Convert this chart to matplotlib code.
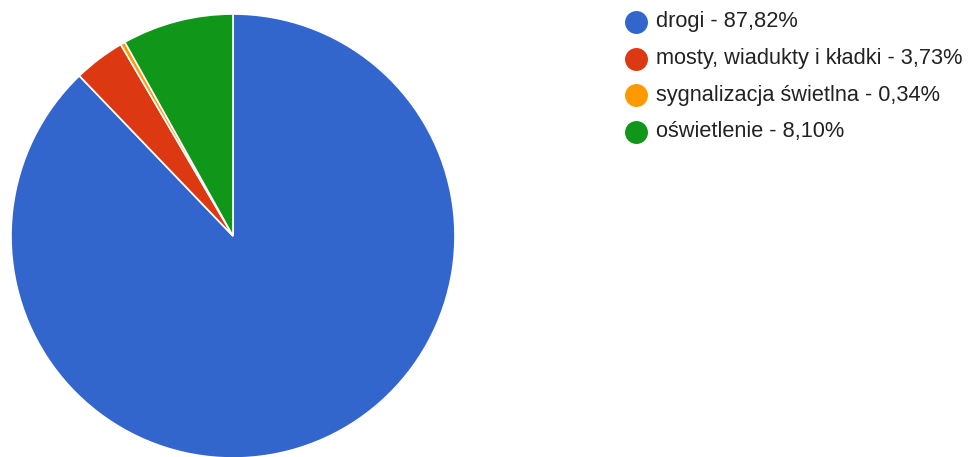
import matplotlib.pyplot as plt
from matplotlib.lines import Line2D

kategorie = ["drogi", "mosty, wiadukty i kładki", "sygnalizacja świetlna", "oświetlenie"]
udzialy = [87.82, 3.73, 0.34, 8.10]
kolory = ["#3366cc", "#dc3912", "#ff9900", "#109618"]

plt.rcParams['font.family'] = ['Liberation Sans', 'DejaVu Sans']

W, H = 970, 457
fig = plt.figure(figsize=(W / 100, H / 100), dpi=100)

# kolo: srodek (233, 236), promien 222 px
cx, cy, r = 233, 236, 222
ax = fig.add_axes([(cx - r) / W, (H - cy - r) / H, 2 * r / W, 2 * r / H])
ax.pie(udzialy, colors=kolory, startangle=90, counterclock=False,
       wedgeprops=dict(edgecolor="white", linewidth=1.2))
ax.set_xlim(-1, 1)
ax.set_ylim(-1, 1)
ax.set_aspect("equal")
ax.axis("off")

# legenda
x_kolo, x_tekst = 636, 656
y0, dy = 22, 36.5
for i, (nazwa, wart, kol) in enumerate(zip(kategorie, udzialy, kolory)):
    y = 1 - (y0 + i * dy) / H
    fig.add_artist(Line2D([x_kolo / W], [y], marker="o", markersize=15.5,
                          color=kol, linestyle="none", transform=fig.transFigure))
    etykieta = f"{nazwa} - {wart:.2f}%".replace(".", ",")
    fig.text(x_tekst / W, y, etykieta, fontsize=15.7, color="#222222",
             va="center", ha="left")

fig.savefig("out.png", dpi=100)
